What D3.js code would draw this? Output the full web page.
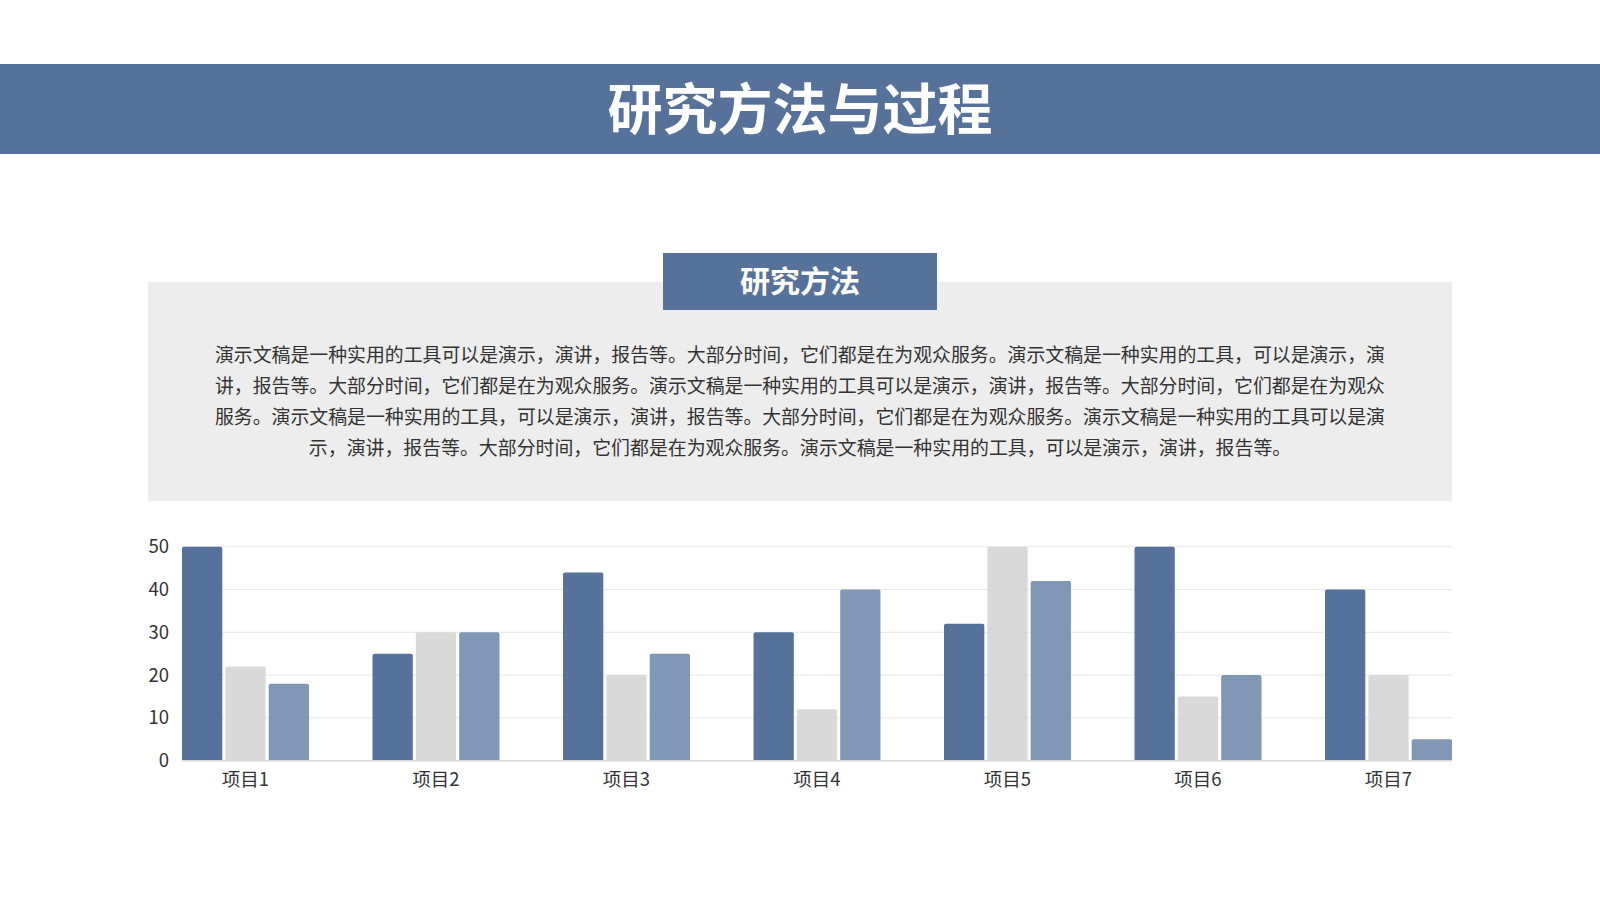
<!DOCTYPE html>
<html>
<head>
<meta charset="utf-8">
<script src="https://cdn.jsdelivr.net/npm/d3@7"></script>
<style>
  body { margin: 0; background: #fff; }
  svg { display: block; font-family: "Noto Sans CJK SC", "Noto Sans", sans-serif; }
</style>
</head>
<body>
<div id="slide"></div>
<script>
// chart data
const categories = ["项目1", "项目2", "项目3", "项目4", "项目5", "项目6", "项目7"]
const seriesNames = ["系列1", "系列2", "系列3"]
const series1 = [50, 25, 44, 30, 32, 50, 40]
const series2 = [22, 30, 20, 12, 50, 15, 20]
const series3 = [18, 30, 25, 40, 42, 20, 5]
const yTicks = [0, 10, 20, 30, 40, 50]

const titleText = "研究方法与过程"
const labelText = "研究方法"
const paragraphLines = [
    "演示文稿是一种实用的工具可以是演示，演讲，报告等。大部分时间，它们都是在为观众服务。演示文稿是一种实用的工具，可以是演示，演",
    "讲，报告等。大部分时间，它们都是在为观众服务。演示文稿是一种实用的工具可以是演示，演讲，报告等。大部分时间，它们都是在为观众",
    "服务。演示文稿是一种实用的工具，可以是演示，演讲，报告等。大部分时间，它们都是在为观众服务。演示文稿是一种实用的工具可以是演",
    "示，演讲，报告等。大部分时间，它们都是在为观众服务。演示文稿是一种实用的工具，可以是演示，演讲，报告等。"
]

const colors = ["#56719a", "#d9d9d9", "#8197b6"]

const svg = d3.select("#slide")
    .append("svg")
        .attr("width", 1600)
        .attr("height", 900)

// header band
svg.append("rect")
    .attr("x", 0).attr("y", 64)
    .attr("width", 1600).attr("height", 90)
    .attr("fill", "#56719a")
svg.append("text")
    .attr("x", 800).attr("y", 105)
    .attr("text-anchor", "middle")
    .attr("dominant-baseline", "central")
    .attr("fill", "#fff")
    .attr("font-size", 55)
    .attr("font-weight", 700)
    .text(titleText)

// grey text panel
svg.append("rect")
    .attr("x", 148).attr("y", 282)
    .attr("width", 1304).attr("height", 219)
    .attr("fill", "#ededed")
svg.append("rect")
    .attr("x", 663).attr("y", 253)
    .attr("width", 274).attr("height", 57)
    .attr("fill", "#56719a")
svg.append("text")
    .attr("x", 800).attr("y", 279)
    .attr("text-anchor", "middle")
    .attr("dominant-baseline", "central")
    .attr("fill", "#fff")
    .attr("font-size", 30)
    .attr("font-weight", 700)
    .text(labelText)

const para = svg.append("g")
paragraphLines.forEach(function(line, i){
    const last = i === paragraphLines.length - 1
    const t = para.append("text")
        .attr("y", 353 + i * 31.3)
        .attr("dominant-baseline", "central")
        .attr("fill", "#333")
        .attr("font-size", 18.9)
        .text(line)
    if (last) {
        t.attr("x", 800).attr("text-anchor", "middle")
    } else {
        t.attr("x", 215)
            .attr("textLength", 1170)
            .attr("lengthAdjust", "spacing")
    }
})

// bar chart
const x = d3.scaleBand()
    .domain(categories)
    .range([182, 1452])
    .paddingInner(1 / 3)
    .paddingOuter(0)

const xSub = d3.scaleBand()
    .domain(seriesNames)
    .range([0, x.bandwidth()])
    .paddingInner(0.07)

const y = d3.scaleLinear()
    .domain([0, 50])
    .range([760.7, 546.7])

const chart = svg.append("g")

chart.append("g")
    .selectAll("line")
    .data(yTicks.slice(1)).enter()
    .append("line")
        .attr("x1", 182).attr("x2", 1452)
        .attr("y1", d => y(d)).attr("y2", d => y(d))
        .attr("stroke", "#e8e8e8")
        .attr("stroke-width", 1)

const yAxis = chart.append("g")
    .attr("transform", "translate(169, 0)")
    .call(d3.axisLeft(y).tickValues(yTicks).tickSize(0).tickPadding(0))
yAxis.select(".domain").remove()
yAxis.selectAll("text")
    .attr("font-family", "\"Noto Sans CJK SC\", \"Noto Sans\", sans-serif")
    .attr("font-size", 18.5)
    .attr("fill", "#333")

const rows = categories.map((c, i) => ({
    cat: c,
    values: [series1[i], series2[i], series3[i]]
}))

const groups = chart.selectAll(".grp")
    .data(rows).enter()
    .append("g")
        .attr("class", "grp")
        .attr("transform", d => "translate(" + x(d.cat) + ", 0)")

groups.selectAll("rect")
    .data(d => d.values.map((v, j) => ({name: seriesNames[j], value: v, idx: j})))
    .enter()
    .append("rect")
        .attr("x", d => xSub(d.name))
        .attr("y", d => y(d.value))
        .attr("width", xSub.bandwidth())
        .attr("height", d => y(0) - y(d.value) + 2)
        .attr("rx", 2)
        .attr("fill", d => colors[d.idx])

// cover the rounded bottoms, then draw the base line
chart.append("rect")
    .attr("x", 170).attr("y", y(0))
    .attr("width", 1300).attr("height", 4)
    .attr("fill", "#fff")
chart.append("line")
    .attr("x1", 182).attr("x2", 1452)
    .attr("y1", y(0)).attr("y2", y(0))
    .attr("stroke", "#d9d9d9")
    .attr("stroke-width", 1.5)

const xAxis = chart.append("g")
    .attr("transform", "translate(0, " + y(0) + ")")
    .call(d3.axisBottom(x).tickSize(0).tickPadding(12))
xAxis.select(".domain").remove()
xAxis.selectAll("text")
    .attr("font-family", "\"Noto Sans CJK SC\", \"Noto Sans\", sans-serif")
    .attr("font-size", 18.5)
    .attr("fill", "#333")
</script>
</body>
</html>
